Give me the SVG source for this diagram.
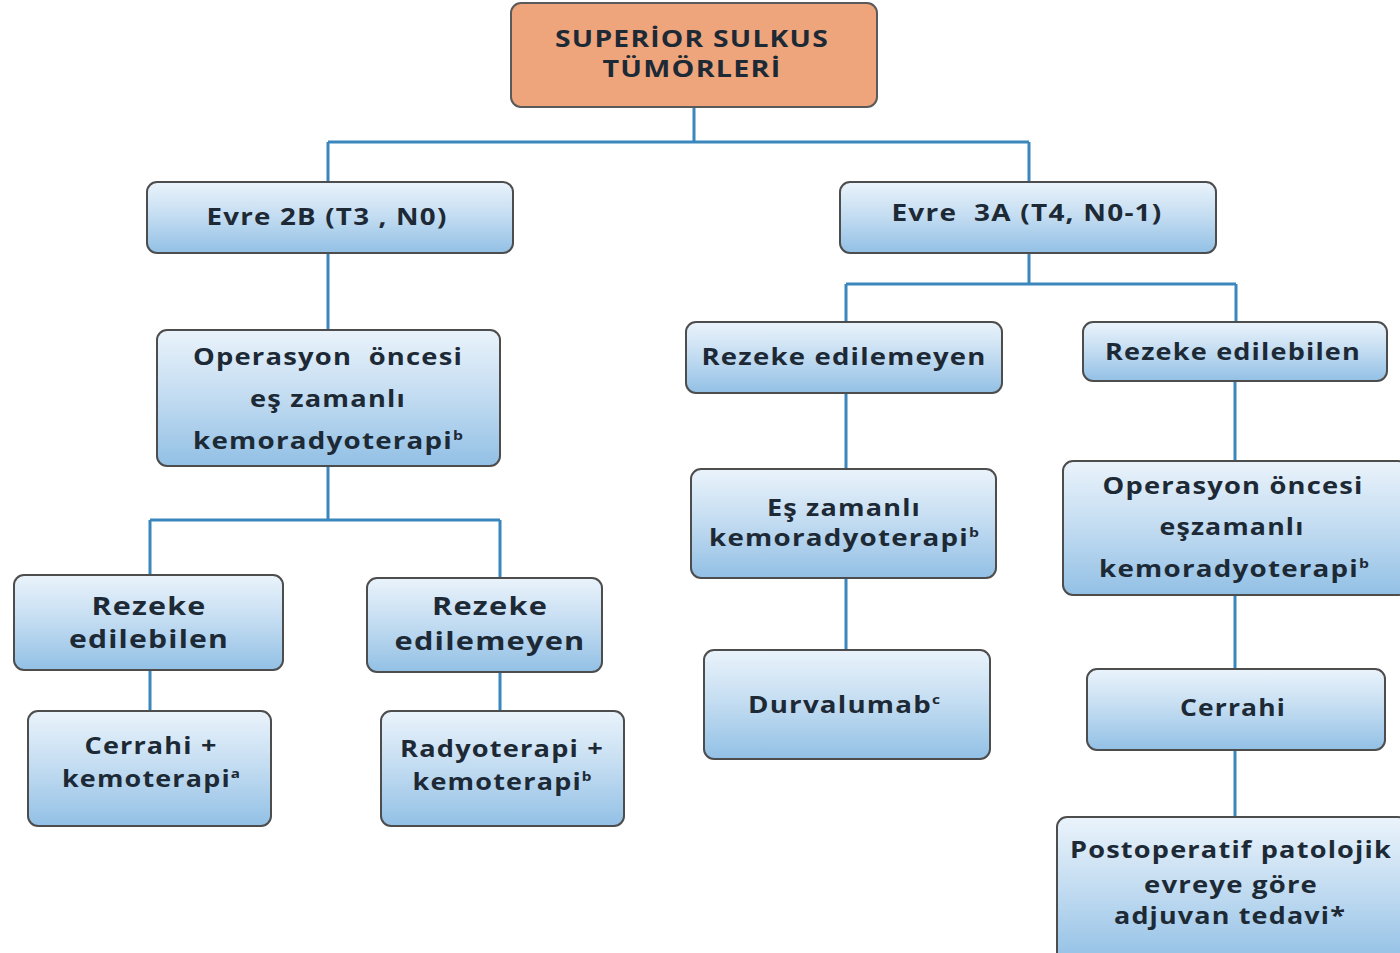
<svg xmlns="http://www.w3.org/2000/svg" width="1400" height="953" viewBox="0 0 1400 953">
<defs>
<linearGradient id="bg" x1="0" y1="0" x2="0" y2="1">
<stop offset="0" stop-color="#eaf3fb"/>
<stop offset="0.45" stop-color="#c6def2"/>
<stop offset="1" stop-color="#92c0e5"/>
</linearGradient>
<style>
.box{fill:url(#bg);stroke:#4d4d4d;stroke-width:2}
.root{fill:#eea57b;stroke:#5a5a5a;stroke-width:2}
.t{font-family:"Open Sans",Lato,"Liberation Sans",sans-serif;font-weight:700;font-size:23px;fill:#1d2a36;text-anchor:middle;letter-spacing:1px}
.big{font-size:25px}
.sup{font-size:13px;letter-spacing:0}
.c{fill:none;stroke:#3b87bd;stroke-width:3}
</style>
</defs>
<rect width="1400" height="953" fill="#ffffff"/>
<g id="connectors">
<path class="c" d="M694 107V142M328 142H1029M328 142V182M1029 142V182"/>
<path class="c" d="M328 253V330"/>
<path class="c" d="M328 466V520M150 520H500M150 520V575M500 520V578"/>
<path class="c" d="M150 670V711M500 672V711"/>
<path class="c" d="M1029 253V284M846 284H1236M846 284V322M1236 284V322"/>
<path class="c" d="M846 393V469M846 578V650"/>
<path class="c" d="M1235 381V461M1235 595V669M1235 750V817"/>
</g>
<g id="root">
<rect class="root" x="511" y="3" width="366" height="104" rx="10"/>
<text class="t" x="692" y="47" textLength="274" lengthAdjust="spacingAndGlyphs">SUPERİOR SULKUS</text>
<text class="t" x="692" y="77" textLength="179" lengthAdjust="spacingAndGlyphs">TÜMÖRLERİ</text>
</g>
<g id="evre2b">
<rect class="box" x="147" y="182" width="366" height="71" rx="10"/>
<text class="t" x="327" y="225" textLength="241" lengthAdjust="spacingAndGlyphs">Evre 2B (T3 , N0)</text>
</g>
<g id="evre3a">
<rect class="box" x="840" y="182" width="376" height="71" rx="10"/>
<text class="t" x="1027" y="221" textLength="271" lengthAdjust="spacingAndGlyphs" xml:space="preserve">Evre  3A (T4, N0-1)</text>
</g>
<g id="op1">
<rect class="box" x="157" y="330" width="343" height="136" rx="10"/>
<text class="t" x="328" y="365" textLength="270" lengthAdjust="spacingAndGlyphs" xml:space="preserve">Operasyon  öncesi</text>
<text class="t" x="328" y="407" textLength="156" lengthAdjust="spacingAndGlyphs">eş zamanlı</text>
<text class="t" x="328" y="449" textLength="270" lengthAdjust="spacingAndGlyphs">kemoradyoterapi<tspan class="sup" dy="-9">b</tspan></text>
</g>
<g id="rez1">
<rect class="box" x="14" y="575" width="269" height="95" rx="10"/>
<text class="t big" x="149" y="615" textLength="115" lengthAdjust="spacingAndGlyphs">Rezeke</text>
<text class="t big" x="149" y="648" textLength="160" lengthAdjust="spacingAndGlyphs">edilebilen</text>
</g>
<g id="unrez1">
<rect class="box" x="367" y="578" width="235" height="94" rx="10"/>
<text class="t big" x="490" y="615" textLength="116" lengthAdjust="spacingAndGlyphs">Rezeke</text>
<text class="t big" x="490" y="650" textLength="191" lengthAdjust="spacingAndGlyphs">edilemeyen</text>
</g>
<g id="cerrahikemo">
<rect class="box" x="28" y="711" width="243" height="115" rx="10"/>
<text class="t" x="151" y="754" textLength="133" lengthAdjust="spacingAndGlyphs">Cerrahi +</text>
<text class="t" x="151" y="787" textLength="178" lengthAdjust="spacingAndGlyphs">kemoterapi<tspan class="sup" dy="-9">a</tspan></text>
</g>
<g id="radyo">
<rect class="box" x="381" y="711" width="243" height="115" rx="10"/>
<text class="t" x="502" y="757" textLength="204" lengthAdjust="spacingAndGlyphs">Radyoterapi +</text>
<text class="t" x="502" y="790" textLength="179" lengthAdjust="spacingAndGlyphs">kemoterapi<tspan class="sup" dy="-9">b</tspan></text>
</g>
<g id="unrez2">
<rect class="box" x="686" y="322" width="316" height="71" rx="10"/>
<text class="t" x="844" y="365" textLength="285" lengthAdjust="spacingAndGlyphs">Rezeke edilemeyen</text>
</g>
<g id="rez2">
<rect class="box" x="1083" y="322" width="304" height="59" rx="10"/>
<text class="t" x="1233" y="360" textLength="256" lengthAdjust="spacingAndGlyphs">Rezeke edilebilen</text>
</g>
<g id="esz">
<rect class="box" x="691" y="469" width="305" height="109" rx="10"/>
<text class="t" x="844" y="516" textLength="154" lengthAdjust="spacingAndGlyphs">Eş zamanlı</text>
<text class="t" x="844" y="546" textLength="270" lengthAdjust="spacingAndGlyphs">kemoradyoterapi<tspan class="sup" dy="-9">b</tspan></text>
</g>
<g id="durva">
<rect class="box" x="704" y="650" width="286" height="109" rx="10"/>
<text class="t" x="844" y="713" textLength="192" lengthAdjust="spacingAndGlyphs">Durvalumab<tspan class="sup" dy="-9">c</tspan></text>
</g>
<g id="op2">
<rect class="box" x="1063" y="461" width="345" height="134" rx="10"/>
<text class="t" x="1233" y="494" textLength="261" lengthAdjust="spacingAndGlyphs">Operasyon öncesi</text>
<text class="t" x="1232" y="535" textLength="145" lengthAdjust="spacingAndGlyphs">eşzamanlı</text>
<text class="t" x="1234" y="577" textLength="270" lengthAdjust="spacingAndGlyphs">kemoradyoterapi<tspan class="sup" dy="-9">b</tspan></text>
</g>
<g id="cerrahi">
<rect class="box" x="1087" y="669" width="298" height="81" rx="10"/>
<text class="t" x="1233" y="716" textLength="106" lengthAdjust="spacingAndGlyphs">Cerrahi</text>
</g>
<g id="postop">
<rect class="box" x="1057" y="817" width="351" height="146" rx="10"/>
<text class="t" x="1231" y="858" textLength="322" lengthAdjust="spacingAndGlyphs">Postoperatif patolojik</text>
<text class="t" x="1231" y="893" textLength="174" lengthAdjust="spacingAndGlyphs">evreye göre</text>
<text class="t" x="1230" y="924" textLength="232" lengthAdjust="spacingAndGlyphs">adjuvan tedavi*</text>
</g>
</svg>
